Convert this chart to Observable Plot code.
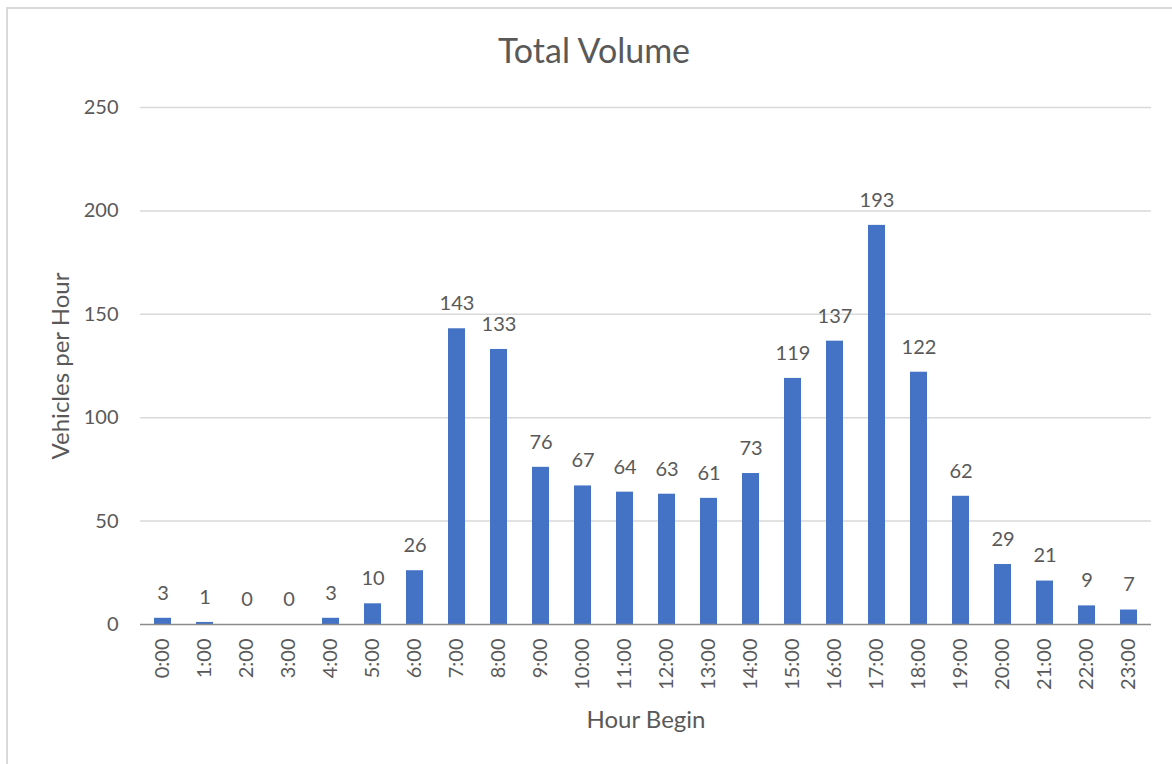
<!DOCTYPE html>
<html>
<head>
<meta charset="utf-8">
<script src="https://cdn.jsdelivr.net/npm/d3@7"></script>
<script src="https://cdn.jsdelivr.net/npm/@observablehq/plot@0.6"></script>
<style>
  html, body { margin: 0; padding: 0; background: #fff; }
  #wrap { position: relative; width: 1172px; height: 764px; overflow: hidden; }
  #border { position: absolute; left: 6px; top: 7px; width: 1300px; height: 900px;
            border-left: 2px solid #d9d9d9; border-top: 2px solid #d9d9d9; box-sizing: border-box; }
  #chart { position: absolute; left: 0; top: 0; }
</style>
</head>
<body>
<div id="wrap"><div id="border"></div><div id="chart"></div></div>
<script>
const hours = ["0:00","1:00","2:00","3:00","4:00","5:00","6:00","7:00","8:00","9:00","10:00","11:00",
               "12:00","13:00","14:00","15:00","16:00","17:00","18:00","19:00","20:00","21:00","22:00","23:00"];
const volumes = [3,1,0,0,3,10,26,143,133,76,67,64,63,61,73,119,137,193,122,62,29,21,9,7];
const yTicks = [0,50,100,150,200,250];
const titleText = "Total Volume";
const yLabel = "Vehicles per Hour";
const xLabel = "Hour Begin";

const data = hours.map((h, i) => ({hour: h, value: volumes[i]}));
const font = "Lato, 'Open Sans', sans-serif";
const textColor = "#595959";

const chart = Plot.plot({
  width: 1172,
  height: 764,
  marginLeft: 140,
  marginRight: 21,
  marginTop: 107,
  marginBottom: 140,
  style: {fontFamily: font, fontSize: "20px", color: textColor, background: "transparent", overflow: "visible"},
  x: {domain: hours, paddingInner: 0.6, paddingOuter: 0.3, label: null},
  y: {domain: [0, 250], label: null},
  marks: [
    Plot.ruleY(yTicks.filter(d => d > 0), {stroke: "#d9d9d9", strokeWidth: 1.5}),
    Plot.barY(data, {x: "hour", y: "value", fill: "#4472C4"}),
    Plot.ruleY([0], {stroke: "#8c8c8c", strokeWidth: 1.5}),
    Plot.axisY({ticks: yTicks, tickSize: 0, tickPadding: 22, fontSize: 20, fill: textColor, label: null}),
    Plot.axisX({tickSize: 0, tickPadding: 14, tickRotate: -90, fontSize: 20, fill: textColor, label: null}),
    Plot.text(data, {x: "hour", y: "value", text: d => String(d.value), dy: -25, lineAnchor: "middle",
                     fontSize: 20, fill: textColor}),
    Plot.text([titleText], {frameAnchor: "top", dy: -55, dx: -52, lineAnchor: "middle", textAnchor: "middle",
                            fontSize: 34, fill: textColor}),
    Plot.text([yLabel], {frameAnchor: "left", rotate: -90, dx: -79, lineAnchor: "middle", textAnchor: "middle",
                         fontSize: 24, fill: textColor}),
    Plot.text([xLabel], {frameAnchor: "bottom", dy: 96, lineAnchor: "middle", textAnchor: "middle",
                         fontSize: 24, fill: textColor})
  ]
});
document.getElementById("chart").appendChild(chart);
</script>
</body>
</html>
